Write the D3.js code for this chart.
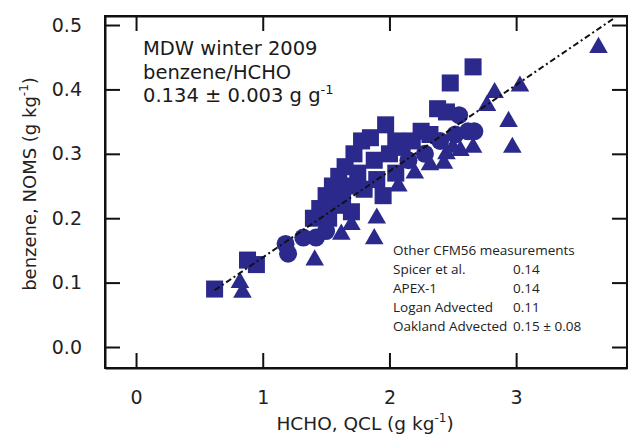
<!DOCTYPE html>
<html>
<head>
<meta charset="utf-8">
<script src="https://cdn.jsdelivr.net/npm/d3@7"></script>
<style>
  body { margin: 0; background: #fff; }
  svg { display: block; font-family: "DejaVu Sans", Verdana, sans-serif; }
</style>
</head>
<body>
<svg width="628" height="437"></svg>
<script>
// marker data (HCHO g/kg, benzene g/kg)
const squareX = [0.62, 0.88, 0.95, 1.40, 1.45, 1.50, 1.52, 1.55, 1.60, 1.63, 1.65, 1.68, 1.72, 1.75, 1.78, 1.80, 1.85, 1.88, 1.90, 1.97, 2.00, 2.05, 2.10, 2.18, 2.25, 2.32, 2.38, 2.45, 2.48, 2.66, 1.58, 1.70, 1.95, 2.05];
const squareY = [0.09, 0.135, 0.128, 0.20, 0.215, 0.235, 0.20, 0.25, 0.265, 0.235, 0.28, 0.25, 0.30, 0.27, 0.32, 0.245, 0.325, 0.29, 0.26, 0.345, 0.30, 0.32, 0.31, 0.32, 0.335, 0.33, 0.37, 0.365, 0.41, 0.435, 0.22, 0.21, 0.235, 0.27];

const circleX = [1.18, 1.20, 1.32, 1.42, 1.50, 2.28, 2.40, 2.52, 2.55, 2.62, 2.67, 2.15];
const circleY = [0.16, 0.145, 0.17, 0.17, 0.18, 0.30, 0.32, 0.33, 0.36, 0.335, 0.335, 0.29];

const triangleX = [0.82, 0.84, 1.41, 1.62, 1.70, 1.88, 1.90, 2.07, 2.20, 2.32, 2.43, 2.45, 2.56, 2.66, 2.77, 2.83, 2.94, 2.97, 3.03, 3.65, 2.50];
const triangleY = [0.10, 0.085, 0.135, 0.175, 0.19, 0.168, 0.20, 0.25, 0.27, 0.283, 0.285, 0.30, 0.305, 0.31, 0.375, 0.395, 0.35, 0.31, 0.405, 0.465, 0.31];

// fit: benzene = 0.134 * HCHO
const fitX = [0.62, 3.78];
const fitSlope = 0.134;
const fitIntercept = 0.005;

const xTicks = [0, 1, 2, 3];
const yTicks = [0.0, 0.1, 0.2, 0.3, 0.4, 0.5];

const summaryLines = ['MDW winter 2009', 'benzene/HCHO'];
const otherNames = ['Spicer et al.', 'APEX-1', 'Logan Advected', 'Oakland Advected'];
const otherValues = ['0.14', '0.14', '0.11', '0.15 ± 0.08'];

const svg = d3.select('svg');
const blue = '#2b2a8c';
const plotLeft = 105, plotRight = 627, plotTop = 16, plotBottom = 368;

const x = d3.scaleLinear().domain([-0.245, 3.875]).range([plotLeft, plotRight]);
const y = d3.scaleLinear().domain([-0.0326, 0.514]).range([plotBottom, plotTop]);

// frame
svg.append('rect')
  .attr('x', plotLeft).attr('y', plotTop)
  .attr('width', plotRight - plotLeft).attr('height', plotBottom - plotTop)
  .attr('fill', 'none').attr('stroke', '#111').attr('stroke-width', 2);

// mirrored inward ticks
const tickLen = 15;
const axes = svg.append('g');
axes.append('g').attr('transform', `translate(0,${plotBottom})`)
  .call(d3.axisBottom(x).tickValues(xTicks).tickSizeInner(-tickLen).tickSizeOuter(0).tickPadding(tickLen + 8).tickFormat(d3.format('d')));
axes.append('g').attr('transform', `translate(0,${plotTop})`)
  .call(d3.axisTop(x).tickValues(xTicks).tickSizeInner(-tickLen).tickSizeOuter(0).tickFormat(() => ''));
axes.append('g').attr('transform', `translate(${plotLeft},0)`)
  .call(d3.axisLeft(y).tickValues(yTicks).tickSizeInner(-tickLen).tickSizeOuter(0).tickPadding(tickLen + 8).tickFormat(d3.format('.1f')));
axes.append('g').attr('transform', `translate(${plotRight},0)`)
  .call(d3.axisRight(y).tickValues(yTicks).tickSizeInner(-tickLen).tickSizeOuter(0).tickFormat(() => ''));

axes.selectAll('.domain').attr('stroke', '#111').attr('stroke-width', 2);
axes.selectAll('.tick line').attr('stroke', '#111').attr('stroke-width', 2);
axes.selectAll('.tick text').attr('font-size', 19).attr('fill', '#222')
  .attr('font-family', '"DejaVu Sans", sans-serif');

// markers
const sym = (type, size) => d3.symbol().type(type).size(size)();
function drawMarkers(xs, ys, path) {
  xs.forEach((v, i) => {
    svg.append('path')
      .attr('d', path)
      .attr('transform', `translate(${x(v)},${y(ys[i])})`)
      .attr('fill', blue);
  });
}
drawMarkers(squareX, squareY, sym(d3.symbolSquare, 290));
drawMarkers(circleX, circleY, sym(d3.symbolCircle, 255));
drawMarkers(triangleX, triangleY, sym(d3.symbolTriangle, 150));

// fit line
const fitLine = d3.line().x((d) => x(d)).y((d) => y(fitSlope * d + fitIntercept));
svg.append('path')
  .attr('d', fitLine(fitX))
  .attr('fill', 'none')
  .attr('stroke', '#111').attr('stroke-width', 2)
  .attr('stroke-dasharray', '6 3 2 3');

// summary text
const summary = svg.append('text').attr('x', 143).attr('y', 55)
  .attr('font-size', 19.5).attr('fill', '#1a1a1a');
summaryLines.forEach((t, i) => {
  summary.append('tspan').attr('x', 143).attr('dy', i === 0 ? 0 : 23.5).text(t);
});
summary.append('tspan').attr('x', 143).attr('dy', 23.5).text('0.134 ± 0.003 g g');
summary.append('tspan').attr('dy', -8).attr('font-size', 13).text('-1');

// other measurements inset
const inset = svg.append('g').attr('font-family', '"Open Sans", sans-serif').attr('font-size', 13.5).attr('fill', '#222');
inset.append('text').attr('x', 393).attr('y', 255).text('Other CFM56 measurements');
otherNames.forEach((n, i) => {
  inset.append('text').attr('x', 393).attr('y', 274 + i * 19).text(n);
  inset.append('text').attr('x', 513).attr('y', 274 + i * 19).text(otherValues[i]);
});

// axis titles
const xt = svg.append('text').attr('x', 365).attr('y', 430).attr('text-anchor', 'middle')
  .attr('font-size', 18.5).attr('fill', '#222');
xt.append('tspan').text('HCHO, QCL (g kg');
xt.append('tspan').attr('dy', -8).attr('font-size', 12).text('-1');
xt.append('tspan').attr('dy', 8).text(')');

const yt = svg.append('text').attr('transform', 'translate(36,184) rotate(-90)').attr('text-anchor', 'middle')
  .attr('font-size', 18).attr('fill', '#222');
yt.append('tspan').text('benzene, NOMS (g kg');
yt.append('tspan').attr('dy', -8).attr('font-size', 12).text('-1');
yt.append('tspan').attr('dy', 8).text(')');
</script>
</body>
</html>
